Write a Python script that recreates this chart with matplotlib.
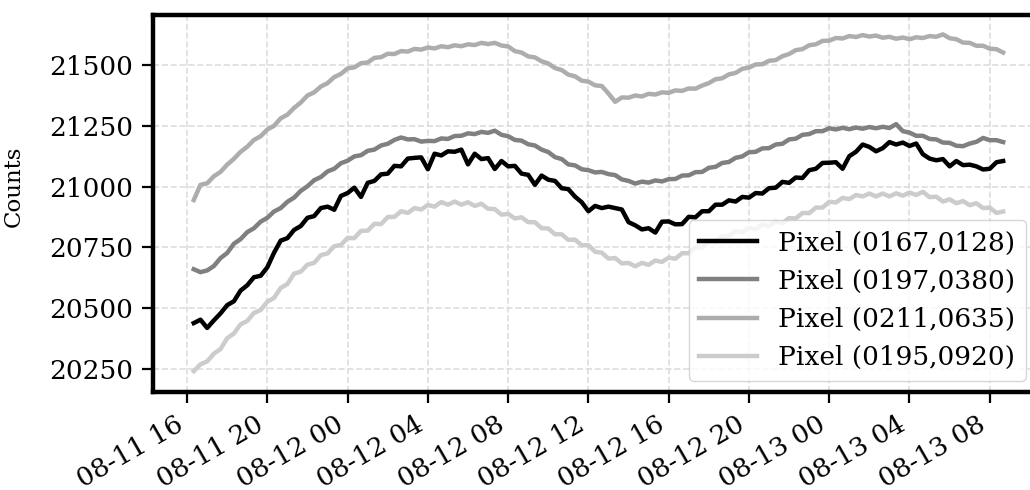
import matplotlib
matplotlib.use("Agg")
import matplotlib.pyplot as plt
import matplotlib.dates as mdates
import pandas as pd

# ========== 数据（每20分钟一个采样点，从 08-11 16:20 开始）==========
start_time = "2023-08-11 16:20"
step = "20min"

labels = ["Pixel (0167,0128)", "Pixel (0197,0380)",
          "Pixel (0211,0635)", "Pixel (0195,0920)"]
colors = ["0.0", "0.5", "0.68", "0.8"]

pix_0167_0128 = [
    20438, 20452, 20418, 20449, 20478, 20512, 20528, 20572, 20594, 20627,
    20633, 20668, 20728, 20778, 20788, 20822, 20838, 20872, 20879, 20912,
    20918, 20905, 20962, 20974, 20996, 20958, 21016, 21024, 21051, 21054,
    21086, 21084, 21116, 21119, 21121, 21072, 21136, 21129, 21146, 21144,
    21153, 21092, 21136, 21114, 21118, 21073, 21106, 21084, 21086, 21054,
    21049, 21008, 21046, 21029, 21024, 20994, 20990, 20959, 20936, 20899,
    20921, 20912, 20918, 20912, 20906, 20854, 20841, 20824, 20829, 20811,
    20856, 20857, 20845, 20846, 20876, 20874, 20899, 20899, 20926, 20926,
    20944, 20939, 20958, 20955, 20974, 20972, 20994, 20996, 21020, 21016,
    21038, 21036, 21068, 21074, 21098, 21099, 21101, 21074, 21126, 21144,
    21174, 21164, 21146, 21159, 21184, 21174, 21182, 21168, 21178, 21134,
    21116, 21109, 21114, 21084, 21106, 21089, 21091, 21084, 21071, 21074,
    21101, 21106,
]

pix_0197_0380 = [
    20660, 20648, 20655, 20673, 20706, 20727, 20765, 20784, 20813, 20829,
    20856, 20872, 20898, 20912, 20938, 20955, 20983, 21002, 21027, 21040,
    21063, 21074, 21097, 21107, 21125, 21130, 21148, 21153, 21170, 21177,
    21193, 21203, 21195, 21196, 21186, 21189, 21188, 21199, 21197, 21209,
    21210, 21220, 21217, 21226, 21222, 21231, 21214, 21208, 21193, 21190,
    21175, 21170, 21153, 21143, 21122, 21114, 21092, 21088, 21072, 21068,
    21059, 21061, 21052, 21048, 21030, 21024, 21013, 21021, 21017, 21026,
    21022, 21031, 21032, 21046, 21047, 21060, 21061, 21078, 21082, 21098,
    21102, 21119, 21125, 21142, 21144, 21158, 21159, 21174, 21177, 21195,
    21198, 21214, 21217, 21229, 21229, 21241, 21236, 21243, 21237, 21244,
    21239, 21246, 21241, 21247, 21242, 21258, 21229, 21223, 21210, 21210,
    21197, 21195, 21182, 21181, 21169, 21167, 21178, 21185, 21201, 21192,
    21192, 21184,
]

pix_0211_0635 = [
    20945, 21008, 21014, 21043, 21061, 21091, 21115, 21144, 21165, 21193,
    21208, 21236, 21251, 21282, 21297, 21325, 21347, 21376, 21389, 21413,
    21427, 21452, 21465, 21488, 21492, 21509, 21512, 21531, 21534, 21548,
    21547, 21559, 21557, 21568, 21565, 21574, 21570, 21579, 21575, 21583,
    21579, 21587, 21584, 21593, 21588, 21593, 21582, 21578, 21559, 21553,
    21537, 21533, 21517, 21508, 21489, 21481, 21462, 21455, 21437, 21433,
    21418, 21415, 21384, 21350, 21368, 21367, 21376, 21372, 21383, 21380,
    21389, 21387, 21397, 21395, 21405, 21404, 21417, 21427, 21443, 21447,
    21463, 21469, 21486, 21491, 21504, 21505, 21519, 21522, 21538, 21547,
    21563, 21567, 21583, 21587, 21601, 21602, 21613, 21611, 21621, 21617,
    21625, 21619, 21623, 21614, 21618, 21610, 21615, 21608, 21616, 21613,
    21621, 21618, 21628, 21612, 21608, 21594, 21593, 21581, 21581, 21569,
    21567, 21553,
]

pix_0195_0920 = [
    20240, 20268, 20280, 20312, 20331, 20376, 20395, 20433, 20447, 20480,
    20492, 20526, 20542, 20583, 20599, 20642, 20650, 20679, 20686, 20718,
    20725, 20755, 20760, 20789, 20788, 20818, 20819, 20847, 20846, 20875,
    20876, 20899, 20892, 20912, 20906, 20925, 20918, 20937, 20926, 20939,
    20926, 20936, 20921, 20930, 20909, 20908, 20885, 20888, 20869, 20874,
    20854, 20854, 20829, 20828, 20804, 20804, 20781, 20782, 20759, 20759,
    20732, 20728, 20704, 20706, 20684, 20686, 20672, 20686, 20678, 20696,
    20690, 20708, 20703, 20726, 20726, 20750, 20750, 20774, 20773, 20796,
    20797, 20818, 20812, 20831, 20825, 20844, 20838, 20856, 20850, 20871,
    20869, 20892, 20891, 20914, 20914, 20938, 20935, 20954, 20949, 20966,
    20960, 20972, 20960, 20972, 20960, 20973, 20963, 20976, 20966, 20979,
    20957, 20959, 20939, 20948, 20932, 20941, 20924, 20932, 20912, 20914,
    20892, 20898,
]

series = [pix_0167_0128, pix_0197_0380, pix_0211_0635, pix_0195_0920]

# ========== 绘图 ==========
plt.rcParams['font.family'] = ['DejaVu Serif']

fig = plt.figure(figsize=(10.3, 4.9), dpi=100)
# 右边框在图幅之外（原图被裁掉）
ax = fig.add_axes([0.1485, 0.199, 0.8592, 0.771])

for vals, lab, col in zip(series, labels, colors):
    t = pd.date_range(start_time, periods=len(vals), freq=step)
    ax.plot(t, vals, color=col, linewidth=3.2, label=lab)

ax.set_xlim(pd.Timestamp("2023-08-11 14:18"), pd.Timestamp("2023-08-13 10:24"))
ax.set_ylim(20152, 21709)
ax.set_yticks([20250, 20500, 20750, 21000, 21250, 21500])

ax.xaxis.set_major_locator(mdates.HourLocator(byhour=range(0, 24, 4)))
ax.xaxis.set_major_formatter(mdates.DateFormatter("%m-%d %H"))
plt.setp(ax.get_xticklabels(), rotation=30, ha='right')

ax.tick_params(axis='both', labelsize=19, length=8, width=1.6, pad=6)
ax.set_ylabel("Counts", fontsize=16.5)
ax.yaxis.set_label_coords(-0.145, 0.545)

ax.grid(True, linestyle='--', color='#dddddd', linewidth=1.2)
ax.set_axisbelow(True)
for sp in ax.spines.values():
    sp.set_linewidth(3.2)

ax.legend(loc='lower right', fontsize=19, framealpha=0.8,
          edgecolor='#cccccc', handlelength=2.2, borderaxespad=0.45)

fig.savefig("out.png", dpi=100)
